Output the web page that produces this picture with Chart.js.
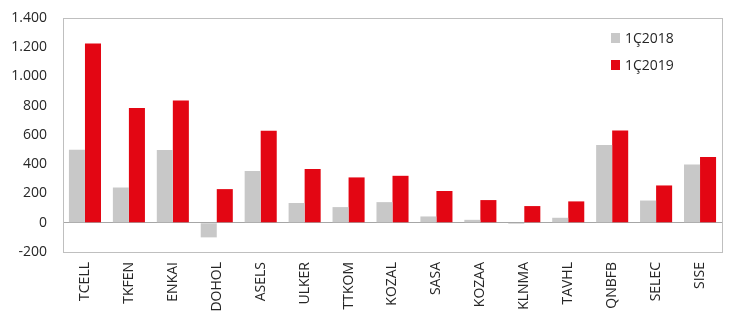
<!DOCTYPE html>
<html>
<head>
<meta charset="utf-8">
<script src="https://cdn.jsdelivr.net/npm/chart.js@4"></script>
<style>
  html, body { margin: 0; padding: 0; background: #fff; }
  #wrap { width: 740px; height: 323px; }
</style>
</head>
<body>
<div id="wrap"><canvas id="chart" width="740" height="323"></canvas></div>
<script>
const tickers = ['TCELL', 'TKFEN', 'ENKAI', 'DOHOL', 'ASELS', 'ULKER', 'TTKOM', 'KOZAL', 'SASA', 'KOZAA', 'KLNMA', 'TAVHL', 'QNBFB', 'SELEC', 'SISE'];
const q1_2018 = [500, 241, 498, -100, 353, 135, 107, 141, 43, 20, -8, 34, 531, 152, 399];
const q1_2019 = [1225, 784, 836, 230, 629, 367, 310, 321, 217, 155, 114, 146, 631, 255, 449];
const seriesNames = ['1Ç2018', '1Ç2019'];
const seriesColors = ['#c8c8c8', '#e30613'];

const FONT = "'Open Sans', sans-serif";

// dot as thousands separator, like the source
function fmt(v) {
    return String(v).replace(/\B(?=(\d{3})+(?!\d))/g, '.');
}

// frame round the plot area + legend inside, top right
const framePlugin = {
    id: 'frame',
    afterDraw(chart) {
        const { ctx, chartArea: a } = chart;
        ctx.save();
        ctx.strokeStyle = '#bfbfbf';
        ctx.lineWidth = 1;
        ctx.strokeRect(Math.round(a.left) + 0.5, Math.round(a.top) + 0.5, Math.round(a.right - a.left), Math.round(a.bottom - a.top));

        ctx.font = '14px ' + FONT;
        ctx.textBaseline = 'middle';
        const x = a.right - 111;
        seriesNames.forEach((name, i) => {
            const cy = a.top + 20 + i * 27;
            ctx.fillStyle = seriesColors[i];
            ctx.fillRect(x, cy - 5, 9, 10);
            ctx.fillStyle = '#262626';
            ctx.fillText(name, x + 14, cy + 1);
        });
        ctx.restore();
    }
};

new Chart(document.getElementById('chart'), {
    type: 'bar',
    data: {
        labels: tickers,
        datasets: [
            { label: seriesNames[0], data: q1_2018, backgroundColor: seriesColors[0] },
            { label: seriesNames[1], data: q1_2019, backgroundColor: seriesColors[1] }
        ]
    },
    options: {
        responsive: false,
        animation: false,
        devicePixelRatio: 1,
        layout: { padding: { top: 18, right: 18, left: 0, bottom: 0 } },
        datasets: { bar: { categoryPercentage: 0.73, barPercentage: 1.0 } },
        plugins: {
            legend: { display: false },
            tooltip: { enabled: false }
        },
        scales: {
            x: {
                grid: { display: false, drawTicks: false },
                border: { display: false },
                ticks: {
                    color: '#262626',
                    font: { family: FONT, size: 14 },
                    minRotation: 90,
                    maxRotation: 90,
                    padding: 10,
                    autoSkip: false
                },
                afterFit(scale) {
                    scale.height = 71;
                    scale.paddingLeft = 0; scale.paddingRight = 0;
                    scale.paddingTop = 0; scale.paddingBottom = 0;
                }
            },
            y: {
                min: -200,
                max: 1400,
                grid: {
                    drawTicks: false,
                    color: ctx => (ctx.tick && ctx.tick.value === 0 ? '#a6a6a6' : 'transparent')
                },
                border: { display: false },
                ticks: {
                    stepSize: 200,
                    color: '#262626',
                    font: { family: FONT, size: 14 },
                    padding: 16,
                    callback: v => fmt(v)
                },
                afterFit(scale) {
                    scale.width = 63;
                    scale.paddingTop = 0; scale.paddingBottom = 0;
                }
            }
        }
    },
    plugins: [framePlugin]
});
</script>
</body>
</html>
